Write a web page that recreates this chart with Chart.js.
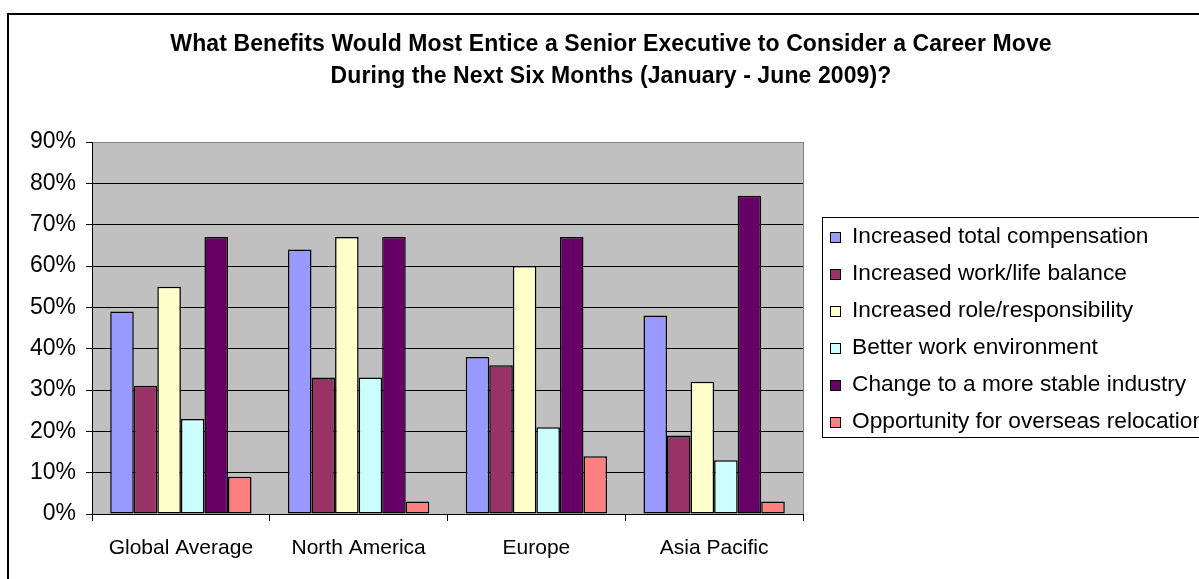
<!DOCTYPE html>
<html>
<head>
<meta charset="utf-8">
<title>Senior executive career move benefits</title>
<script src="https://cdn.jsdelivr.net/npm/chart.js@4"></script>
<style>
  html, body { margin: 0; padding: 0; background: #fff; overflow: hidden; }
  #wrap { position: relative; width: 1199px; height: 579px; }
</style>
</head>
<body>
<div id="wrap"><canvas id="chart-benefits" width="1199" height="579"></canvas></div>
<script>
  "use strict";

  // Data (percent of respondents)
  const regions = ["Global Average", "North America", "Europe", "Asia Pacific"];
  const benefitNames = [
    "Increased total compensation",
    "Increased work/life balance",
    "Increased role/responsibility",
    "Better work environment",
    "Change to a more stable industry",
    "Opportunity for overseas relocation",
  ];
  const totalCompensation = [49, 64, 38, 48];
  const workLifeBalance = [31, 33, 36, 19];
  const roleResponsibility = [55, 67, 60, 32];
  const workEnvironment = [23, 33, 21, 13];
  const stableIndustry = [67, 67, 67, 77];
  const overseasRelocation = [9, 3, 14, 3];
  const yTicks = [0, 10, 20, 30, 40, 50, 60, 70, 80, 90];
  const titleLines = [
    "What Benefits Would Most Entice a Senior Executive to Consider a Career Move",
    "During the Next Six Months (January - June 2009)?",
  ];

  const FONT = "'Liberation Sans', Arial, sans-serif";
  const COLORS = ["#9999FF", "#993366", "#FFFFCC", "#CCFFFF", "#660066", "#FF8080"];
  const SERIES = [
    totalCompensation,
    workLifeBalance,
    roleResponsibility,
    workEnvironment,
    stableIndustry,
    overseasRelocation,
  ];

  // gray plot background, outer frame, title and boxed legend (Excel look)
  const excelDecor = {
    id: "excelDecor",
    beforeDraw(chart) {
      const { ctx, chartArea: a } = chart;
      ctx.save();
      ctx.fillStyle = "#C0C0C0";
      ctx.fillRect(a.left, a.top, a.right - a.left, a.bottom - a.top);
      ctx.strokeStyle = "#808080";
      ctx.lineWidth = 1;
      ctx.strokeRect(a.left + 0.5, a.top + 0.5, a.right - a.left, a.bottom - a.top);
      ctx.restore();
    },
    afterDraw(chart) {
      const { ctx } = chart;
      ctx.save();

      // outer frame (runs off the right and bottom of the picture)
      ctx.strokeStyle = "#000";
      ctx.lineWidth = 2;
      ctx.strokeRect(8, 14, 1400, 800);

      // title
      ctx.fillStyle = "#000";
      ctx.textAlign = "center";
      ctx.textBaseline = "alphabetic";
      ctx.font = `bold 23px ${FONT}`;
      ctx.letterSpacing = "0.1px";
      ctx.fillText(titleLines[0], 611, 51);
      ctx.fillText(titleLines[1], 611, 83);
      ctx.letterSpacing = "0px";

      // legend box
      ctx.lineWidth = 1;
      ctx.strokeRect(822.5, 217.5, 500, 220);
      ctx.textAlign = "left";
      ctx.font = `22.7px ${FONT}`;
      chart.data.datasets.forEach((ds, i) => {
        const cy = 237.5 + i * 37;
        ctx.fillStyle = ds.backgroundColor;
        ctx.fillRect(830, cy - 5.5, 11, 11);
        ctx.strokeStyle = "#000";
        ctx.strokeRect(830.5, cy - 5, 10, 10);
        ctx.fillStyle = "#000";
        ctx.fillText(ds.label, 852, cy + 5.5);
      });
      ctx.restore();
    },
  };

  function buildDatasets() {
    return benefitNames.map((name, i) => ({
      label: name,
      data: SERIES[i],
      backgroundColor: COLORS[i],
      borderColor: "#000",
      borderWidth: 1.5,
      borderSkipped: false,
      categoryPercentage: 0.795,
      barPercentage: 1,
    }));
  }

  new Chart(document.getElementById("chart-benefits"), {
    type: "bar",
    data: { labels: regions, datasets: buildDatasets() },
    options: {
      responsive: false,
      animation: false,
      devicePixelRatio: 1,
      layout: { padding: { top: 142, right: 396, bottom: 0, left: 0 } },
      plugins: {
        legend: { display: false },
        title: { display: false },
        tooltip: { enabled: false },
      },
      scales: {
        x: {
          grid: {
            display: true,
            offset: true,
            drawOnChartArea: false,
            drawTicks: true,
            tickLength: 7,
            color: "#000",
          },
          border: { display: true, color: "#000", width: 1 },
          ticks: {
            color: "#000",
            padding: 15,
            maxRotation: 0,
            font: { family: FONT, size: 21 },
          },
          afterFit(scale) {
            scale.height = 65;
          },
        },
        y: {
          min: 0,
          max: 90,
          afterBuildTicks(scale) {
            scale.ticks = yTicks.map((v) => ({ value: v }));
          },
          grid: {
            color: (c) => (c.tick && c.tick.value === 90 ? "#808080" : "#000"),
            tickColor: "#000",
            tickLength: 6,
            lineWidth: 1,
          },
          border: { display: true, color: "#000", width: 1 },
          ticks: {
            color: "#000",
            padding: 10,
            font: { family: FONT, size: 23 },
            callback: (v) => `${v}%`,
          },
          afterFit(scale) {
            scale.width = 92;
          },
        },
      },
    },
    plugins: [excelDecor],
  });
</script>
</body>
</html>
